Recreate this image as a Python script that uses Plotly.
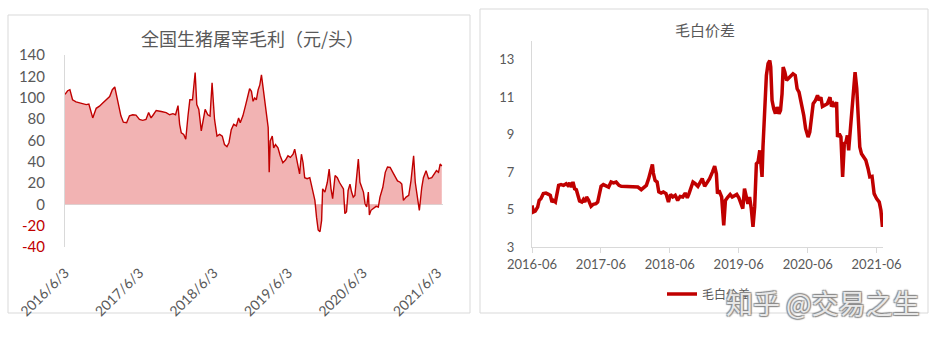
import plotly.graph_objects as go

# ---------------- Left panel: 全国生猪屠宰毛利（元/头） ----------------
margin_dates = [
    "2016-06-03", "2016-06-16", "2016-06-27", "2016-07-10", "2016-07-27", "2016-08-21",
    "2016-09-15", "2016-09-28", "2016-10-09", "2016-10-17", "2016-11-03", "2016-11-19",
    "2016-12-05", "2016-12-22", "2017-01-08", "2017-01-21", "2017-02-02", "2017-02-13",
    "2017-02-23", "2017-03-04", "2017-03-16", "2017-04-01", "2017-04-15", "2017-05-01",
    "2017-05-17", "2017-06-03", "2017-06-19", "2017-07-05", "2017-07-18", "2017-07-30",
    "2017-08-10", "2017-08-24", "2017-09-18", "2017-10-12", "2017-10-29", "2017-11-14",
    "2017-11-27", "2017-12-09", "2017-12-17", "2017-12-25", "2018-01-06", "2018-01-16",
    "2018-01-27", "2018-02-05", "2018-02-18", "2018-03-03", "2018-03-11", "2018-03-21",
    "2018-04-02", "2018-04-10", "2018-04-21", "2018-05-04", "2018-05-15", "2018-05-25",
    "2018-06-06", "2018-06-18", "2018-07-01", "2018-07-14", "2018-07-25", "2018-08-06",
    "2018-08-16", "2018-08-27", "2018-09-08", "2018-09-21", "2018-10-02", "2018-10-10",
    "2018-10-23", "2018-11-06", "2018-11-17", "2018-11-25", "2018-12-04", "2018-12-12",
    "2018-12-20", "2018-12-28", "2019-01-06", "2019-01-14", "2019-01-22", "2019-01-31",
    "2019-02-08", "2019-02-16", "2019-02-24", "2019-03-01", "2019-03-06", "2019-03-16",
    "2019-03-23", "2019-04-01", "2019-04-13", "2019-04-24", "2019-05-07", "2019-05-20",
    "2019-06-01", "2019-06-13", "2019-06-26", "2019-07-04", "2019-07-12", "2019-07-20",
    "2019-07-28", "2019-08-06", "2019-08-14", "2019-08-22", "2019-09-03", "2019-09-16",
    "2019-09-29", "2019-10-11", "2019-10-19", "2019-10-27", "2019-11-05", "2019-11-13",
    "2019-11-18", "2019-11-29", "2019-12-11", "2019-12-20", "2019-12-29", "2020-01-06",
    "2020-01-18", "2020-01-29", "2020-02-08", "2020-02-19", "2020-02-28", "2020-03-06",
    "2020-03-14", "2020-03-22", "2020-03-31", "2020-04-08", "2020-04-16", "2020-04-24",
    "2020-05-03", "2020-05-11", "2020-05-19", "2020-05-27", "2020-06-05", "2020-06-13",
    "2020-06-21", "2020-06-29", "2020-07-04", "2020-07-12", "2020-07-24", "2020-08-06",
    "2020-08-17", "2020-08-25", "2020-09-08", "2020-09-20", "2020-10-01", "2020-10-14",
    "2020-10-27", "2020-11-08", "2020-11-19", "2020-12-02", "2020-12-10", "2020-12-18",
    "2020-12-31", "2021-01-13", "2021-01-24", "2021-02-06", "2021-02-14", "2021-02-22",
    "2021-03-02", "2021-03-06", "2021-03-18", "2021-03-26", "2021-04-08", "2021-04-20",
    "2021-05-06", "2021-05-17", "2021-05-29", "2021-06-08", "2021-06-16", "2021-06-24",
]
margin_values = [
    103, 106.5, 107.5, 98, 96, 95,
    93.5, 94, 86, 81, 90, 92,
    95, 98, 101, 107.5, 110, 100,
    89, 83, 77, 76.5, 83, 84,
    83.6, 79.6, 78.7, 79.6, 86, 81,
    84, 88, 87, 86, 84, 85,
    84, 92.6, 75, 67, 65.6, 61,
    83, 98, 98, 123.6, 93.5, 89,
    68.8, 76.5, 89, 84, 82.7, 114,
    79.6, 64, 65.6, 64, 56, 54,
    58, 70, 75, 73.6, 81, 76.5,
    83, 93.5, 103, 108.4, 106, 96.6,
    99.7, 98, 107.5, 112, 121.4, 109,
    96.6, 84, 72, 30, 59.5, 64,
    53, 56, 53, 45.5, 39, 41.5,
    45.5, 44, 47, 51.7, 44, 36,
    28.5, 47, 39, 25, 24, 25,
    14.5, 3.7, -12, -24, -25.7, -15,
    14.5, 11.5, 20.7, 33, 14.5, 5.3,
    27, 25, 20.7, 17.7, 14.5, -8.7,
    -7, 13, 19, 11.5, 6.8, 8.4,
    25, 42.4, 20.7, 16, 11.5, 0.6,
    -2.5, 11.5, -10, -5.6, -4, -1.9,
    -2.5, 6.8, 16, 30, 35, 34.7,
    30, 25, 22, 20.7, 19, 3.7,
    6.8, 8.4, 22, 45.5, 20.7, 10,
    0.6, -5.6, 16, 25, 31.6, 24,
    25, 28.5, 31.6, 30, 37.8, 36,
]
left_tickvals = ["2016-06-03", "2017-06-03", "2018-06-03", "2019-06-03", "2020-06-03", "2021-06-03"]
left_ticktext = ["2016/6/3", "2017/6/3", "2018/6/3", "2019/6/3", "2020/6/3", "2021/6/3"]
left_yticks = [-40, -20, 0, 20, 40, 60, 80, 100, 120, 140]

# ---------------- Right panel: 毛白价差 ----------------
spread_dates = [
    "2016-06-01", "2016-06-08", "2016-06-18", "2016-07-01", "2016-07-09", "2016-07-18",
    "2016-07-31", "2016-08-14", "2016-08-28", "2016-09-06", "2016-09-15", "2016-09-22",
    "2016-10-03", "2016-10-10", "2016-10-20", "2016-11-02", "2016-11-15", "2016-11-29",
    "2016-12-08", "2016-12-17", "2016-12-26", "2017-01-04", "2017-01-13", "2017-01-22",
    "2017-01-31", "2017-02-08", "2017-02-20", "2017-02-28", "2017-03-08", "2017-03-17",
    "2017-03-28", "2017-04-10", "2017-04-22", "2017-05-06", "2017-05-15", "2017-05-24",
    "2017-06-02", "2017-06-14", "2017-06-28", "2017-07-12", "2017-07-25", "2017-08-07",
    "2017-08-21", "2017-09-05", "2017-09-17", "2017-10-04", "2017-10-22", "2017-11-09",
    "2017-11-27", "2017-12-14", "2018-01-01", "2018-01-14", "2018-01-28", "2018-02-09",
    "2018-02-20", "2018-03-01", "2018-03-06", "2018-03-15", "2018-03-26", "2018-04-04",
    "2018-04-16", "2018-04-28", "2018-05-12", "2018-05-25", "2018-06-05", "2018-06-17",
    "2018-06-30", "2018-07-13", "2018-07-26", "2018-08-09", "2018-08-22", "2018-09-02",
    "2018-09-11", "2018-09-23", "2018-10-02", "2018-10-14", "2018-10-28", "2018-11-10",
    "2018-11-20", "2018-12-03", "2018-12-15", "2018-12-29", "2019-01-13", "2019-01-25",
    "2019-02-03", "2019-02-09", "2019-02-17", "2019-02-24", "2019-03-03", "2019-03-14",
    "2019-03-23", "2019-04-05", "2019-04-17", "2019-04-28", "2019-05-10", "2019-05-22",
    "2019-06-02", "2019-06-15", "2019-06-23", "2019-07-02", "2019-07-11", "2019-07-20",
    "2019-07-29", "2019-08-07", "2019-08-16", "2019-08-25", "2019-09-03", "2019-09-12",
    "2019-09-21", "2019-09-26", "2019-10-03", "2019-10-08", "2019-10-17", "2019-10-26",
    "2019-11-04", "2019-11-13", "2019-11-18", "2019-11-25", "2019-12-04", "2019-12-13",
    "2019-12-22", "2020-01-01", "2020-01-09", "2020-01-17", "2020-01-23", "2020-02-01",
    "2020-02-10", "2020-02-18", "2020-03-01", "2020-03-15", "2020-03-27", "2020-04-06",
    "2020-04-16", "2020-04-29", "2020-05-11", "2020-05-21", "2020-06-03", "2020-06-12",
    "2020-06-21", "2020-06-30", "2020-07-12", "2020-07-23", "2020-08-01", "2020-08-10",
    "2020-08-18", "2020-08-31", "2020-09-13", "2020-09-27", "2020-10-05", "2020-10-14",
    "2020-10-23", "2020-11-01", "2020-11-06", "2020-11-15", "2020-11-24", "2020-12-03",
    "2020-12-12", "2020-12-21", "2020-12-28", "2021-01-04", "2021-01-11", "2021-01-20",
    "2021-01-29", "2021-02-07", "2021-02-16", "2021-02-25", "2021-03-04", "2021-03-13",
    "2021-03-25", "2021-04-05", "2021-04-17", "2021-04-26", "2021-05-08", "2021-05-19",
    "2021-06-01", "2021-06-15", "2021-06-24", "2021-07-02",
]
spread_values = [
    5.22, 4.87, 4.92, 5.13, 5.49, 5.58,
    5.85, 5.88, 5.81, 5.76, 5.4, 5.49,
    5.4, 5.76, 6.29, 6.33, 6.29, 6.38,
    6.29, 6.42, 6.2, 6.47, 6.11, 6.06,
    5.67, 5.46, 5.4, 5.53, 5.4, 5.67,
    5.49, 5.17, 5.28, 5.31, 5.4, 5.85,
    6.24, 6.33, 6.24, 6.2, 6.47, 6.42,
    6.47, 6.29, 6.24, 6.24, 6.2, 6.2,
    6.24, 6.2, 6.06, 6.17, 6.29, 6.65,
    7.0, 7.41, 6.95, 6.56, 6.47, 5.94,
    5.88, 5.94, 5.85, 5.4, 5.81, 5.67,
    5.76, 5.49, 5.7, 5.67, 5.88, 5.63,
    5.85, 6.2, 6.47, 6.38, 6.24, 6.47,
    6.65, 6.24, 6.42, 6.65, 7.0, 7.32,
    6.91, 5.85, 6.02, 5.88, 5.67, 4.16,
    5.49, 5.67, 5.81, 5.67, 5.76, 5.81,
    5.63, 5.31, 5.05, 6.11, 5.67, 5.31,
    5.67, 5.05, 4.07, 5.14, 7.45, 7.54,
    8.16, 7.72, 6.74, 8.34, 10.74, 12.16,
    12.79, 12.96, 12.61, 10.83, 10.38, 10.12,
    10.47, 10.12, 10.3, 11.18, 12.61, 12.34,
    11.9, 11.98, 12.07, 12.25, 12.16, 11.45,
    11.27, 10.65, 10.03, 9.32, 8.87, 9.14,
    10.03, 10.65, 10.83, 11.1, 10.83, 11.0,
    10.5, 10.56, 10.65, 11.0, 10.5, 10.65,
    10.5, 10.74, 8.87, 9.05, 8.87, 6.74,
    8.52, 8.61, 8.96, 8.16, 8.96, 10.03,
    11.18, 12.34, 11.45, 9.67, 8.34, 7.98,
    7.8, 7.63, 7.18, 6.74, 6.77, 5.85,
    5.58, 5.4, 4.96, 4.07,
]
right_tickvals = ["2016-06-01", "2017-06-01", "2018-06-01", "2019-06-01", "2020-06-01", "2021-06-01"]
right_ticktext = ["2016-06", "2017-06", "2018-06", "2019-06", "2020-06", "2021-06"]
right_yticks = [3, 5, 7, 9, 11, 13]

W, H = 947, 341
RED = "#c00000"
GRAY_TXT = "#595959"
AXIS = "#d9d9d9"
CJK = "Noto Sans CJK SC"
NUM = "Lato, Noto Sans CJK SC, sans-serif"


def px(x):
    return x / W


def py(y):
    return 1 - y / H


fig = go.Figure()

fig.add_trace(go.Scatter(
    x=margin_dates, y=margin_values, mode="lines",
    line=dict(color=RED, width=1.4), fill="tozeroy", fillcolor="#f2b3b3",
    xaxis="x", yaxis="y", showlegend=False, name="全国生猪屠宰毛利",
))

fig.add_trace(go.Scatter(
    x=spread_dates, y=spread_values, mode="lines",
    line=dict(color=RED, width=3.5), xaxis="x2", yaxis="y2",
    name="毛白价差", showlegend=True,
))

left_ytext = []
for v in left_yticks:
    if v < 0:
        left_ytext.append(f'<span style="color:{RED}">{v}</span>')
    else:
        left_ytext.append(str(v))

fig.update_layout(
    width=W, height=H,
    margin=dict(l=0, r=0, t=0, b=0, autoexpand=False),
    paper_bgcolor="white", plot_bgcolor="white",
    font=dict(family=NUM, color=GRAY_TXT),
    xaxis=dict(
        domain=[px(65), px(443)], range=["2016-06-03", "2021-06-30"],
        type="date", tickvals=left_tickvals, ticktext=left_ticktext,
        tickangle=-45, tickfont=dict(size=14, color=GRAY_TXT, family=NUM),
        showgrid=False, showline=False, zeroline=False, ticks="",
        ticklabelstandoff=14, automargin=False,
    ),
    yaxis=dict(
        domain=[py(247), py(55)], range=[-40, 140],
        tickvals=left_yticks, ticktext=left_ytext,
        tickfont=dict(size=15, color=GRAY_TXT, family=NUM),
        showgrid=False, showline=True, linecolor=AXIS, linewidth=1,
        zeroline=True, zerolinecolor=AXIS, zerolinewidth=1,
        ticks="", ticklabelstandoff=16, automargin=False,
    ),
    xaxis2=dict(
        domain=[px(532), px(883)], range=["2016-06-01", "2021-07-05"],
        type="date", tickvals=right_tickvals, ticktext=right_ticktext,
        tickfont=dict(size=13, color=GRAY_TXT, family=NUM),
        showgrid=False, showline=True, linecolor=AXIS, linewidth=1,
        ticks="outside", ticklen=5, tickcolor=AXIS, zeroline=False,
        anchor="y2", automargin=False,
    ),
    yaxis2=dict(
        domain=[py(247), py(41)], range=[3, 14],
        tickvals=right_yticks,
        tickfont=dict(size=13, color=GRAY_TXT, family=NUM),
        showgrid=False, showline=True, linecolor=AXIS, linewidth=1,
        zeroline=False, ticks="", ticklabelstandoff=14,
        anchor="x2", automargin=False,
    ),
    legend=dict(
        x=px(662), y=py(294), xanchor="left", yanchor="middle",
        font=dict(size=12, color=GRAY_TXT, family=CJK),
        bgcolor="rgba(0,0,0,0)",
    ),
    shapes=[
        dict(type="rect", xref="paper", yref="paper",
             x0=px(8), x1=px(470), y0=py(313), y1=py(15),
             line=dict(color=AXIS, width=1), layer="below"),
        dict(type="rect", xref="paper", yref="paper",
             x0=px(480), x1=px(928), y0=py(313), y1=py(9),
             line=dict(color=AXIS, width=1), layer="below"),
    ],
    annotations=[
        dict(text="全国生猪屠宰毛利（元/头）", xref="paper", yref="paper",
             x=px(252), y=py(38), xanchor="center", yanchor="middle",
             showarrow=False, font=dict(size=18, color=GRAY_TXT, family=CJK)),
        dict(text="毛白价差", xref="paper", yref="paper",
             x=px(705), y=py(29), xanchor="center", yanchor="middle",
             showarrow=False, font=dict(size=15, color=GRAY_TXT, family=CJK)),
        dict(text="知乎 @交易之生", xref="paper", yref="paper",
             x=px(922), y=py(302), xanchor="right", yanchor="middle",
             showarrow=False,
             font=dict(size=27, color="rgba(245,245,245,0.9)", family=CJK,
                       shadow="1px 1px 1px #8a8a8a, -1px -1px 1px #8a8a8a, 1px -1px 1px #8a8a8a, -1px 1px 1px #8a8a8a")),
    ],
)

fig.write_html("out.html")
